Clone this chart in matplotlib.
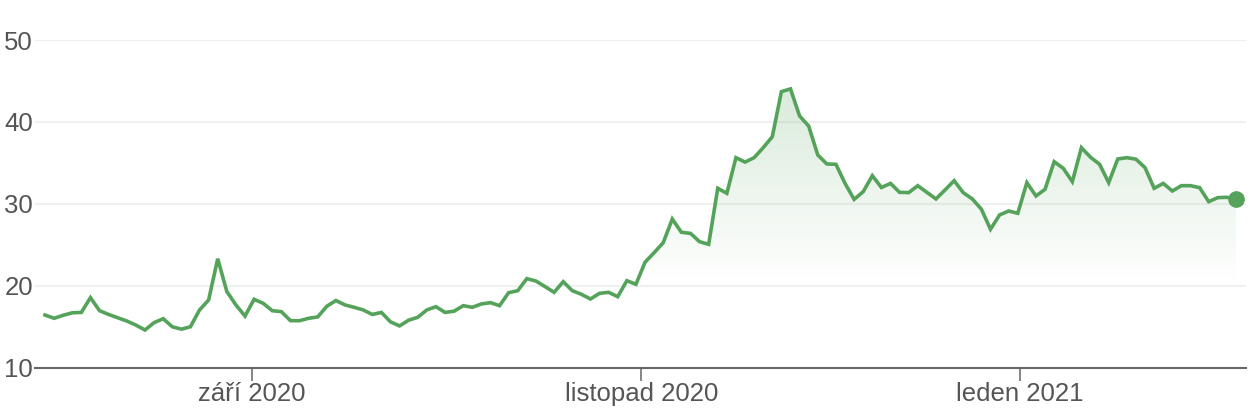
import numpy as np
import pandas as pd
import matplotlib
matplotlib.use("Agg")
import matplotlib.pyplot as plt
import matplotlib.dates as mdates
from matplotlib.colors import to_rgb

# closing prices, one per trading day
prices = [
    16.43, 16.03, 16.40, 16.70, 16.75, 18.55, 16.96, 16.50, 16.10, 15.70,
    15.20, 14.60, 15.50, 15.98, 15.00, 14.70, 15.00, 17.05, 18.27, 23.30,
    19.30, 17.66, 16.30, 18.35, 17.86, 16.96, 16.84, 15.74, 15.74, 16.03,
    16.20, 17.50, 18.20, 17.66, 17.37, 17.05, 16.50, 16.75, 15.60, 15.10,
    15.80, 16.15,
    17.05, 17.45, 16.75, 16.90, 17.57, 17.37, 17.78, 17.94, 17.57, 19.16,
    19.40, 20.87, 20.58, 19.90, 19.20, 20.50, 19.40, 18.96, 18.39, 19.08,
    19.20, 18.67, 20.62, 20.18, 22.87, 24.04, 25.26, 28.15, 26.53, 26.40,
    25.38, 25.06, 31.90, 31.29, 35.64, 35.10, 35.64, 36.86, 38.20, 43.70,
    44.03, 40.73, 39.50, 35.97, 34.87,
    34.83, 32.50, 30.55, 31.49, 33.44, 32.00, 32.50, 31.41, 31.37, 32.22,
    31.41, 30.60, 31.70, 32.83, 31.37, 30.60, 29.34, 26.90, 28.65, 29.13,
    28.85, 32.59, 30.96, 31.78, 35.15, 34.34, 32.71, 36.86, 35.69, 34.83,
    32.59, 35.48, 35.64, 35.45, 34.42, 31.90, 32.50, 31.57, 32.22, 32.22,
    31.98, 30.27, 30.76, 30.80, 30.55,
]
first_day = "2020-07-30"
holidays = ["2020-09-07", "2020-11-26", "2020-12-25", "2021-01-01", "2021-01-18"]
month_starts = ["2020-09-01", "2020-11-01", "2021-01-01"]
month_labels = ["září 2020", "listopad 2020", "leden 2021"]
y_ticks = [10, 20, 30, 40, 50]

green = "#55a35a"
text_grey = "#555555"

plt.rcParams["font.family"] = ["Liberation Sans", "DejaVu Sans"]

days = pd.bdate_range(first_day, periods=len(prices) + 10)
days = days[~days.isin(pd.to_datetime(holidays))][:len(prices)]
idx = np.arange(len(prices))
# the x axis is ordinal (trading days only); month ticks sit at midnight
stamps = mdates.date2num(days) + 0.23
tick_pos = np.interp(mdates.date2num(pd.to_datetime(month_starts)), stamps, idx)

fig = plt.figure(figsize=(12.54, 4.16), dpi=100)
ax = fig.add_axes([0.0279, 0.1161, 0.9657, 0.7877])

# gradient area under the line
fill = ax.fill_between(idx, prices, 20, color="none", lw=0)
grad = np.zeros((200, 2, 4))
grad[..., :3] = to_rgb(green)
grad[..., 3] = np.linspace(0, 0.22, 200)[:, None]
img = ax.imshow(grad, extent=[0, idx[-1], 20, max(prices)], origin="lower",
                aspect="auto", zorder=1, interpolation="bilinear")
img.set_clip_path(fill.get_paths()[0], transform=ax.transData)

ax.plot(idx, prices, color=green, lw=2.6, zorder=3, solid_joinstyle="miter")
ax.plot(idx[-1], prices[-1], "o", ms=11, color=green, zorder=4)

ax.set_xlim(-1.1, idx[-1] + 1.1)
ax.set_ylim(10, 50)
ax.set_yticks(y_ticks)
ax.set_xticks(tick_pos)
ax.set_xticklabels(month_labels)

ax.grid(axis="y", color="#f0f0f0", lw=1.5)
ax.set_axisbelow(True)
for side in ["top", "right", "left"]:
    ax.spines[side].set_visible(False)
ax.spines["bottom"].set_color("#666666")
ax.spines["bottom"].set_linewidth(1.5)
ax.spines["bottom"].set_zorder(5)

ax.tick_params(axis="y", length=0, pad=1.5, labelsize=18.5, labelcolor=text_grey)
ax.tick_params(axis="x", length=9, width=1.1, color="#666666", pad=1.5,
               labelsize=18.5, labelcolor=text_grey)

fig.savefig("out.png", dpi=100)
